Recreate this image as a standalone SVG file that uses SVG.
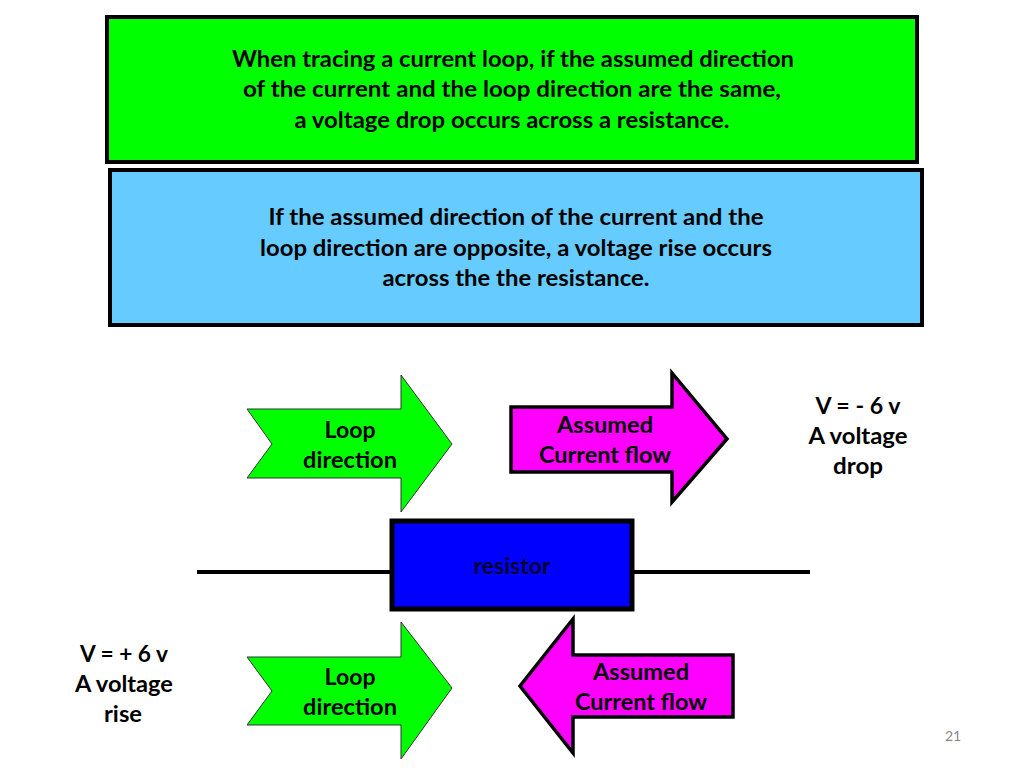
<svg xmlns="http://www.w3.org/2000/svg" width="1024" height="768" viewBox="0 0 1024 768">
<style>
.t{font-family:Lato,"Open Sans","Liberation Sans",sans-serif;font-weight:bold;font-size:23px;fill:#000;text-anchor:middle}
.box{stroke:#000;stroke-width:4}
.green{fill:#00FF00}
.mag{fill:#FF00FF;stroke:#000;stroke-width:3.5;stroke-linejoin:miter}
.garrow{fill:#00FF00;stroke:#333;stroke-width:1}
.wire{stroke:#000;stroke-width:4;fill:none}
</style>
<rect width="1024" height="768" fill="#fff"/>
<g id="rule-drop">
<rect class="box green" x="107" y="17" width="810" height="145"/>
<text class="t" x="513" y="67" textLength="562" lengthAdjust="spacingAndGlyphs">When tracing a current loop, if the assumed direction</text>
<text class="t" x="512" y="97" textLength="538" lengthAdjust="spacingAndGlyphs">of the current and the loop direction are the same,</text>
<text class="t" x="512" y="128" textLength="435" lengthAdjust="spacingAndGlyphs">a voltage drop occurs across a resistance.</text>
</g>
<g id="rule-rise">
<rect class="box" fill="#66CCFF" x="110" y="170" width="812" height="155"/>
<text class="t" x="516" y="225" textLength="495" lengthAdjust="spacingAndGlyphs">If the assumed direction of the current and the</text>
<text class="t" x="516" y="256" textLength="512" lengthAdjust="spacingAndGlyphs">loop direction are opposite, a voltage rise occurs</text>
<text class="t" x="516" y="286" textLength="267" lengthAdjust="spacingAndGlyphs">across the the resistance.</text>
</g>
<g id="connectors">
<line class="wire" x1="197" y1="572" x2="390" y2="572"/>
<line class="wire" x1="634" y1="572" x2="810" y2="572"/>
</g>
<g id="loop-top">
<polygon class="garrow" points="247,409 401,409 401,375 452,444 401,512 401,478 247,478 272,444"/>
<text class="t" x="350" y="438" textLength="51" lengthAdjust="spacingAndGlyphs">Loop</text>
<text class="t" x="350" y="468" textLength="94" lengthAdjust="spacingAndGlyphs">direction</text>
</g>
<g id="current-top">
<polygon class="mag" points="511,407 672,407 672,373 727,439 672,502 672,472 511,472"/>
<text class="t" x="605" y="433" textLength="96" lengthAdjust="spacingAndGlyphs">Assumed</text>
<text class="t" x="605" y="463" textLength="132" lengthAdjust="spacingAndGlyphs">Current flow</text>
</g>
<g id="resistor">
<rect x="392" y="521" width="240" height="88" fill="#0000FF" stroke="#000" stroke-width="5"/>
<text class="t" x="512" y="574" fill="#000033" style="fill:#000033" textLength="77" lengthAdjust="spacingAndGlyphs">resistor</text>
</g>
<g id="drop-label">
<text class="t" x="858" y="414" textLength="85" lengthAdjust="spacingAndGlyphs">V = - 6 v</text>
<text class="t" x="858" y="444" textLength="99" lengthAdjust="spacingAndGlyphs">A voltage</text>
<text class="t" x="858" y="474" textLength="50" lengthAdjust="spacingAndGlyphs">drop</text>
</g>
<g id="loop-bottom">
<polygon class="garrow" points="247,657 401,657 401,622 452,688 401,759 401,725 247,725 272,691"/>
<text class="t" x="350" y="685" textLength="51" lengthAdjust="spacingAndGlyphs">Loop</text>
<text class="t" x="350" y="715" textLength="94" lengthAdjust="spacingAndGlyphs">direction</text>
</g>
<g id="current-bottom">
<polygon class="mag" points="733,655 573,655 573,619 520,686 573,753 573,717 733,717"/>
<text class="t" x="641" y="680" textLength="96" lengthAdjust="spacingAndGlyphs">Assumed</text>
<text class="t" x="641" y="710" textLength="132" lengthAdjust="spacingAndGlyphs">Current flow</text>
</g>
<g id="rise-label">
<text class="t" x="124" y="662" textLength="88" lengthAdjust="spacingAndGlyphs">V = + 6 v</text>
<text class="t" x="124" y="692" textLength="98" lengthAdjust="spacingAndGlyphs">A voltage</text>
<text class="t" x="123" y="722" textLength="38" lengthAdjust="spacingAndGlyphs">rise</text>
</g>
<text x="953" y="741" font-family="Lato,'Liberation Sans',sans-serif" font-size="14" fill="#888" text-anchor="middle">21</text>
</svg>
